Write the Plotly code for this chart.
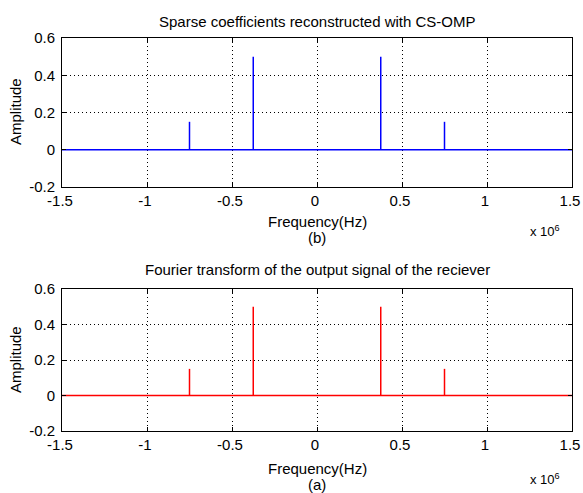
import plotly.graph_objects as go
from plotly.subplots import make_subplots

# Spectral lines (Hz) and their amplitudes
spike_freqs = [-750000, -375000, 375000, 750000]
omp_amps = [0.15, 0.5, 0.5, 0.15]        # CS-OMP reconstruction
fft_amps = [0.15, 0.5, 0.5, 0.15]        # FFT of receiver output
freq_span = [-1500000, 1500000]

x_tickvals = [-1500000, -1000000, -500000, 0, 500000, 1000000, 1500000]
x_ticktext = ["-1.5", "-1", "-0.5", "0", "0.5", "1", "1.5"]
y_tickvals = [-0.2, 0, 0.2, 0.4, 0.6]
y_ticktext = ["-0.2", "0", "0.2", "0.4", "0.6"]

W, H = 583, 493
FONT = "Liberation Sans, Arial, sans-serif"
FS = 15


def stem_line(freqs, amps):
    """Baseline across the span with vertical spikes at each line."""
    xs = list(freq_span) + [None]
    ys = [0, 0, None]
    for f, a in zip(freqs, amps):
        xs += [f, f, None]
        ys += [0, a, None]
    return xs, ys


fig = make_subplots(rows=2, cols=1)

xb, yb = stem_line(spike_freqs, omp_amps)
fig.add_trace(go.Scatter(x=xb, y=yb, mode="lines", line=dict(color="#0000ff", width=1.5),
                         showlegend=False, hoverinfo="skip"), row=1, col=1)
xa, ya = stem_line(spike_freqs, fft_amps)
fig.add_trace(go.Scatter(x=xa, y=ya, mode="lines", line=dict(color="#ff0000", width=1.5),
                         showlegend=False, hoverinfo="skip"), row=2, col=1)

def px_x(p):
    return p / W

def px_y(p):
    return (H - p) / H

axis_common = dict(showline=True, linecolor="black", linewidth=1, mirror="ticks",
                   ticks="inside", ticklen=4, tickcolor="black", automargin=False,
                   showgrid=True, gridcolor="black", griddash="1px,3px", gridwidth=1,
                   zeroline=False, tickfont=dict(family=FONT, size=FS, color="black"))

x_dom = [px_x(62), px_x(572)]
fig.update_xaxes(range=freq_span, tickvals=x_tickvals, ticktext=x_ticktext,
                 domain=x_dom, ticklabelstandoff=0, ticklabelshift=-2,
                 ticklabeloverflow="allow", **axis_common)
fig.update_yaxes(range=[-0.2, 0.6], tickvals=y_tickvals, ticktext=y_ticktext,
                 ticklabelstandoff=3, **axis_common)
fig.update_yaxes(domain=[px_y(187), px_y(38)], row=1, col=1)
fig.update_yaxes(domain=[px_y(431), px_y(289)], row=2, col=1)

txt = dict(family=FONT, size=FS, color="black")
ann = []
cx = px_x(317)
for title, ty, fy, tag, ly, ey in [
    ("Sparse coefficients reconstructed with CS-OMP", 21, 222, "(b)", 112, 231),
    ("Fourier transform of the output signal of the reciever", 269, 468, "(a)", 360, 479),
]:
    ann.append(dict(text=title, x=cx, y=px_y(ty), xref="paper", yref="paper",
                    showarrow=False, font=txt, xanchor="center", yanchor="middle"))
    ann.append(dict(text="Frequency(Hz)", x=cx, y=px_y(fy), xref="paper", yref="paper",
                    showarrow=False, font=txt, xanchor="center", yanchor="middle"))
    ann.append(dict(text=tag, x=cx, y=px_y(fy + 16), xref="paper", yref="paper",
                    showarrow=False, font=txt, xanchor="center", yanchor="middle"))
    ann.append(dict(text="Amplitude", x=px_x(15), y=px_y(ly), xref="paper", yref="paper",
                    showarrow=False, font=txt, textangle=-90,
                    xanchor="center", yanchor="middle"))
    ann.append(dict(text="x 10<sup>6</sup>", x=px_x(545), y=px_y(ey), xref="paper", yref="paper",
                    showarrow=False, font=dict(family=FONT, size=13, color="black"),
                    xanchor="center", yanchor="middle"))

fig.update_layout(width=W, height=H, margin=dict(l=0, r=0, t=0, b=0),
                  paper_bgcolor="white", plot_bgcolor="white",
                  annotations=ann, showlegend=False)

fig.write_html("out.html")
